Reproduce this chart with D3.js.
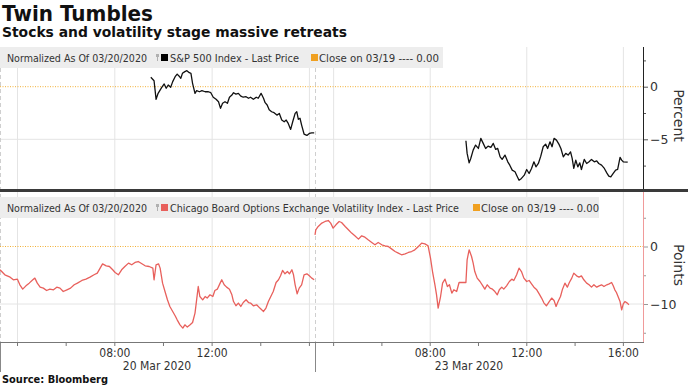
<!DOCTYPE html>
<html>
<head>
<meta charset="utf-8">
<script src="https://cdn.jsdelivr.net/npm/d3@7/dist/d3.min.js"></script>
<style>
  html, body { margin: 0; padding: 0; background: #ffffff; }
  svg { display: block; }
  text { font-family: "DejaVu Sans Condensed", "Liberation Sans Narrow", "Roboto Condensed", "DejaVu Sans", sans-serif; }
</style>
</head>
<body>
<svg id="chart" width="688" height="386"></svg>
<script>
// ---------------- DATA ----------------
const title = "Twin Tumbles";
const subtitle = "Stocks and volatility stage massive retreats";
const source = "Source: Bloomberg";
const days = [{ y: 2020, m: 2, d: 20, label: "20 Mar 2020" }, { y: 2020, m: 2, d: 23, label: "23 Mar 2020" }];

// S&P 500, % change vs close on 03/19 (minutes after midnight)
const spxDay1Minutes = [570, 578, 583, 588, 597, 603, 608, 613, 619, 624,
  630, 635, 640, 644, 648, 654, 659, 665, 669, 673,
  679, 683, 690, 696, 704, 712, 718, 724, 731, 737,
  742, 747, 753, 759, 764, 770, 774, 780, 786, 792,
  798, 805, 811, 816, 823, 830, 835, 842, 848, 852,
  857, 862, 868, 874, 881, 887, 893, 899, 904, 909,
  915, 920, 926, 930, 934, 938, 942, 948, 955, 961,
  967, 973];
const spxDay1Values = [0.9, 0.57, -1.2, -0.63, -0.06, 0.26, -0.15, 0.16, -0.06, 0.48,
  0.95, 1.2, 1.0, 0.8, 1.27, 1.43, 1.52, 1.33, 1.27, 0.32,
  -0.63, -0.38, -0.48, -0.38, -0.48, -0.48, -0.57, -1.0, -1.2, -1.43,
  -2.06, -1.58, -1.43, -1.58, -1.0, -0.79, -0.57, -0.7, -0.63, -0.89,
  -1.0, -0.95, -1.1, -1.0, -1.2, -1.0, -1.1, -0.63, -1.1, -1.52,
  -1.74, -2.2, -2.38, -2.47, -2.7, -2.54, -3.17, -3.33, -3.17, -3.49,
  -4.06, -3.33, -2.54, -2.38, -3.1, -3.0, -3.65, -4.5, -4.63, -4.44,
  -4.38, -4.38];
const spxDay2Minutes = [570, 573, 578, 582, 588, 594, 601, 607, 613, 619,
  625, 632, 638, 644, 649, 655, 660, 667, 674, 679,
  685, 692, 696, 702, 708, 715, 721, 727, 733, 739,
  744, 750, 756, 762, 768, 773, 779, 784, 789, 795,
  801, 806, 812, 818, 824, 830, 834, 838, 843, 848,
  853, 857, 864, 870, 876, 882, 889, 895, 900, 907,
  914, 920, 925, 930, 936, 942, 947, 953, 957, 961,
  972];
const spxDay2Values = [-5.14, -6.34, -7.24, -6.82, -6.03, -5.55, -5.87, -4.91, -5.39, -5.87,
  -5.65, -5.77, -5.39, -5.96, -5.87, -6.67, -6.91, -6.5, -7.14, -7.46,
  -7.93, -8.09, -8.41, -8.89, -8.72, -8.41, -7.87, -8.25, -7.77, -7.14,
  -7.62, -7.3, -6.6, -5.71, -5.46, -5.87, -5.24, -5.71, -4.91, -5.08,
  -5.46, -5.87, -6.67, -6.34, -6.5, -6.19, -6.82, -7.77, -6.98, -7.62,
  -7.24, -7.87, -6.91, -7.3, -7.14, -6.91, -7.14, -7.05, -7.3, -7.46,
  -7.77, -8.19, -8.5, -8.57, -8.25, -7.93, -7.87, -6.72, -6.98, -7.14,
  -7.17];

// VIX, point change vs close on 03/19
const vixDay1Minutes = [198, 210, 223, 231, 241, 247, 254, 262, 270, 279,
  284, 290, 297, 305, 313, 321, 330, 338, 346, 354,
  363, 372, 381, 389, 400, 410, 420, 430, 438, 445,
  451, 460, 468, 476, 482, 490, 498, 506, 515, 523,
  531, 539, 548, 556, 566, 575, 578, 583, 589, 593,
  599, 605, 611, 617, 624, 630, 635, 642, 649, 654,
  660, 667, 673, 679, 683, 687, 691, 698, 704, 709,
  716, 723, 728, 734, 741, 745, 751, 757, 764, 770,
  774, 780, 786, 792, 798, 805, 811, 816, 823, 831,
  839, 848, 854, 860, 866, 872, 879, 885, 890, 895,
  901, 907, 912, 918, 922, 926, 931, 936, 942, 948,
  955, 961, 967, 973];
const vixDay1Values = [-4.05, -4.92, -5.33, -5.79, -5.68, -6.66, -7.42, -6.84, -6.37, -5.79,
  -5.5, -6.37, -7.07, -7.24, -7.65, -7.42, -7.53, -7.07, -7.24, -7.83,
  -7.53, -7.24, -6.66, -6.37, -5.91, -5.68, -5.33, -4.92, -4.63, -3.76,
  -3.01, -3.36, -3.48, -4.05, -4.52, -4.92, -4.05, -3.48, -2.89, -3.18,
  -2.78, -2.61, -3.01, -3.36, -3.48, -3.76, -5.79, -3.18, -3.01, -3.76,
  -6.37, -7.83, -9.27, -10.43, -11.3, -12.05, -12.75, -13.62, -14.19, -13.62,
  -14.02, -13.62, -13.22, -11.58, -9.27, -6.96, -8.7, -9.27, -8.7, -8.97,
  -8.4, -8.7, -7.65, -7.42, -6.37, -5.79, -6.66, -7.07, -7.42, -8.4,
  -9.57, -10.31, -9.84, -10.43, -9.74, -9.27, -9.74, -9.84, -10.31, -10.14,
  -10.71, -11.3, -10.71, -9.57, -8.7, -7.83, -6.26, -5.79, -5.1, -4.17,
  -4.75, -4.35, -4.75, -4.05, -4.92, -6.66, -8.23, -7.24, -6.66, -4.92,
  -4.75, -5.1, -5.5, -5.79];
const vixDay2Minutes = [195, 197, 203, 212, 220, 228, 234, 240, 247, 255,
  261, 270, 278, 286, 294, 303, 311, 319, 327, 336,
  344, 352, 361, 369, 377, 386, 394, 402, 410, 419,
  427, 435, 443, 452, 460, 468, 476, 482, 487, 493,
  497, 501, 507, 512, 518, 524, 529, 535, 540, 547,
  553, 562, 570, 573, 578, 584, 588, 592, 598, 605,
  612, 617, 623, 630, 636, 642, 648, 653, 659, 664,
  671, 678, 684, 689, 696, 702, 708, 714, 721, 727,
  733, 739, 746, 752, 758, 764, 770, 777, 783, 789,
  794, 799, 805, 810, 816, 822, 827, 833, 838, 845,
  851, 857, 863, 870, 876, 882, 888, 895, 901, 907,
  913, 920, 926, 932, 936, 940, 944, 948, 953, 957,
  961, 965, 971, 975];
const vixDay2Values = [2.03, 2.9, 3.48, 4.07, 4.35, 4.52, 4.07, 3.2, 3.77, 4.35,
  4.17, 3.48, 2.9, 2.33, 1.86, 1.28, 1.86, 1.63, 1.17, 0.7,
  0.3, 0.7, 0.3, 0.12, 0, -0.46, -0.87, -1.16, -1.44, -1.27,
  -1.04, -0.87, -0.58, 0, 0.58, 0.46, 0.12, -2.03, -4.35, -6.66,
  -8.4, -10.72, -8.7, -6.37, -5.68, -6.96, -6.66, -8.1, -7.53, -7.83,
  -6.26, -6.26, -6.26, -2.31, -0.58, -1.74, -2.89, -4.35, -5.5, -6.09,
  -6.84, -7.42, -6.66, -7.24, -7.42, -7.83, -8.4, -7.53, -7.07, -7.42,
  -6.84, -6.09, -5.68, -5.91, -4.92, -3.76, -4.35, -5.5, -6.09, -5.91,
  -6.49, -7.07, -7.53, -8.23, -8.97, -9.84, -10.31, -9.57, -8.97, -9.39,
  -10.43, -9.57, -8.7, -7.42, -6.37, -7.07, -6.26, -5.5, -4.63, -5.1,
  -5.33, -5.1, -5.79, -6.37, -6.66, -7.07, -6.66, -7.07, -6.84, -6.66,
  -6.96, -6.66, -6.49, -6.26, -6.84, -7.53, -8.0, -8.7, -9.57, -11.01,
  -9.97, -9.57, -9.84, -10.14];

const timeTickHours = [4, 6, 8, 10, 12, 14, 16];
const labelHoursDay1 = [8, 12];
const labelHoursDay2 = [8, 12, 16];
const gridHours = [4, 8, 12, 16];
const topTicks = [2.5, 0, -2.5, -5, -7.5];
const topLabels = [0, -5];
const bottomTicks = [5, 0, -5, -10, -15];
const bottomLabels = [0, -10];
const topLegend = ["Normalized As Of 03/20/2020", "S&P 500 Index - Last Price", "Close on 03/19 ---- 0.00"];
const bottomLegend = ["Normalized As Of 03/20/2020", "Chicago Board Options Exchange Volatility Index - Last Price", "Close on 03/19 ---- 0.00"];

// ---------------- CHART ----------------
(function () {
const svg = d3.select("#chart");
const dt = (day, minutes) => new Date(day.y, day.m, day.d, 0, minutes);
const D1 = days[0], D2 = days[1];

const x = d3.scaleTime()
  .domain([dt(D1, 198), dt(D1, 975), dt(D2, 195), dt(D2, 1010)])
  .range([0, 315, 315, 643]);

const plotRight = 643;
const topP = { y0: 47, y1: 190 };
const botP = { y0: 192, y1: 342 };
const yTop = d3.scaleLinear().domain([0, -5]).range([86.7, 139.3]);
const yBot = d3.scaleLinear().domain([0, -10]).range([246.5, 304]);

const gridColor = "#e4e4e4";
const textColor = "#333333";

// vertical grid lines
const gridDates = [];
gridHours.forEach(h => { gridDates.push(dt(D1, h * 60)); gridDates.push(dt(D2, h * 60)); });
svg.append("g").selectAll("line").data(gridDates).join("line")
  .attr("x1", d => x(d) + 0.5).attr("x2", d => x(d) + 0.5)
  .attr("y1", topP.y0).attr("y2", botP.y1)
  .attr("stroke", gridColor).attr("stroke-width", 1);

// horizontal grid
svg.append("line").attr("x1", 0).attr("x2", plotRight).attr("y1", yTop(-5)).attr("y2", yTop(-5))
  .attr("stroke", gridColor);
svg.append("line").attr("x1", 0).attr("x2", plotRight).attr("y1", yBot(-10)).attr("y2", yBot(-10))
  .attr("stroke", gridColor);

// dashed session separators
[0.5, x(dt(D2, 195)) + 0.5].forEach(px => {
  svg.append("line").attr("x1", px).attr("x2", px).attr("y1", topP.y0).attr("y2", botP.y1)
    .attr("stroke", "#cfcfcf").attr("stroke-dasharray", "4,3");
  svg.append("line").attr("x1", px).attr("x2", px).attr("y1", botP.y1).attr("y2", 372)
    .attr("stroke", "#888");
});

// zero reference (close on 03/19)
svg.append("line").attr("x1", 0).attr("x2", plotRight).attr("y1", yTop(0)).attr("y2", yTop(0))
  .attr("stroke", "#f2b035").attr("stroke-width", 1).attr("stroke-dasharray", "1,1.5");
svg.append("line").attr("x1", 0).attr("x2", plotRight).attr("y1", yBot(0)).attr("y2", yBot(0))
  .attr("stroke", "#f2b035").attr("stroke-width", 1).attr("stroke-dasharray", "1,1.5");

// series
function series(day, mins, vals) { return mins.map((m, i) => ({ t: dt(day, m), v: vals[i] })); }
const lineTop = d3.line().x(d => x(d.t)).y(d => yTop(d.v));
const lineBot = d3.line().x(d => x(d.t)).y(d => yBot(d.v));

[series(D1, spxDay1Minutes, spxDay1Values), series(D2, spxDay2Minutes, spxDay2Values)].forEach(s => {
  svg.append("path").datum(s).attr("d", lineTop).attr("fill", "none")
    .attr("stroke", "#111").attr("stroke-width", 1.3).attr("stroke-linejoin", "round");
});
[series(D1, vixDay1Minutes, vixDay1Values), series(D2, vixDay2Minutes, vixDay2Values)].forEach(s => {
  svg.append("path").datum(s).attr("d", lineBot).attr("fill", "none")
    .attr("stroke", "#e8605c").attr("stroke-width", 1.3).attr("stroke-linejoin", "round");
});

// legends
function legend(y, texts, color, widths, pos, boxW) {
  const g = svg.append("g");
  g.append("rect").attr("x", 0).attr("y", y).attr("width", boxW).attr("height", 21).attr("fill", "#ededed");
  const by = y + 14.5;
  g.append("text").attr("x", pos[0]).attr("y", by).attr("font-size", 11).attr("fill", textColor)
    .attr("textLength", widths[0]).attr("lengthAdjust", "spacingAndGlyphs").text(texts[0]);
  g.append("rect").attr("x", pos[1] - 6).attr("y", y + 7).attr("width", 3).attr("height", 3).attr("fill", "#b0b0b0");
  g.append("line").attr("x1", pos[1] - 4.5).attr("x2", pos[1] - 4.5).attr("y1", y + 10).attr("y2", y + 14).attr("stroke", "#b0b0b0");
  g.append("rect").attr("x", pos[1] - 1).attr("y", y + 7).attr("width", 7).attr("height", 7).attr("fill", color);
  g.append("text").attr("x", pos[1] + 8).attr("y", by).attr("font-size", 11).attr("fill", textColor)
    .attr("textLength", widths[1]).attr("lengthAdjust", "spacingAndGlyphs").text(texts[1]);
  g.append("rect").attr("x", pos[2] - 8).attr("y", y + 7).attr("width", 7).attr("height", 7).attr("fill", "#f0a020");
  g.append("text").attr("x", pos[2]).attr("y", by).attr("font-size", 11).attr("fill", textColor)
    .attr("textLength", widths[2]).attr("lengthAdjust", "spacingAndGlyphs").text(texts[2]);
}
legend(47, topLegend, "#000", [140, 129, 120], [7, 162, 319], 443);
legend(197, bottomLegend, "#e8605c", [140, 289, 118], [7, 162, 481], 599);

// right axes
const axTop = svg.append("g").attr("transform", `translate(${plotRight},0)`)
  .call(d3.axisRight(yTop).tickValues(topTicks).tickFormat(d => topLabels.includes(d) ? d3.format("d")(d) : "").tickSize(5).tickPadding(2));
axTop.select(".domain").remove();
axTop.append("line").attr("x1", 0.5).attr("x2", 0.5).attr("y1", topP.y0).attr("y2", topP.y1).attr("stroke", "#222");
axTop.selectAll(".tick line").attr("stroke", "#555").attr("x2", d => topLabels.includes(d) ? 5 : 3);
axTop.selectAll(".tick text").attr("font-size", 12.5).attr("fill", textColor)
  .style("font-family", "'DejaVu Sans', sans-serif");

const axBot = svg.append("g").attr("transform", `translate(${plotRight},0)`)
  .call(d3.axisRight(yBot).tickValues(bottomTicks).tickFormat(d => bottomLabels.includes(d) ? d3.format("d")(d) : "").tickSize(5).tickPadding(2));
axBot.select(".domain").remove();
axBot.append("line").attr("x1", 0.5).attr("x2", 0.5).attr("y1", botP.y0).attr("y2", botP.y1).attr("stroke", "#f09a9a");
axBot.selectAll(".tick line").attr("stroke", "#999").attr("x2", d => bottomLabels.includes(d) ? 5 : 3);
axBot.selectAll(".tick text").attr("font-size", 12.5).attr("fill", textColor)
  .style("font-family", "'DejaVu Sans', sans-serif");

// axis titles
svg.append("text").attr("transform", `translate(674,${(topP.y0 + topP.y1) / 2 - 3}) rotate(90)`)
  .attr("text-anchor", "middle").attr("font-size", 14).attr("fill", textColor)
  .style("font-family", "'DejaVu Sans', sans-serif").text("Percent");
svg.append("text").attr("transform", `translate(674,${(botP.y0 + botP.y1) / 2 - 2}) rotate(90)`)
  .attr("text-anchor", "middle").attr("font-size", 14).attr("fill", textColor)
  .style("font-family", "'DejaVu Sans', sans-serif").text("Points");

// divider
svg.append("rect").attr("x", 0).attr("y", 189).attr("width", 688).attr("height", 3).attr("fill", "#3a3a3a");

// x axis
const tickDates = [];
timeTickHours.forEach(h => tickDates.push(dt(D1, h * 60)));
timeTickHours.forEach(h => tickDates.push(dt(D2, h * 60)));
const isLabeled = d => (d.getDate() === D1.d && labelHoursDay1.includes(d.getHours())) ||
                       (d.getDate() === D2.d && labelHoursDay2.includes(d.getHours()));
const axX = svg.append("g").attr("transform", `translate(0,${botP.y1})`)
  .call(d3.axisBottom(x).tickValues(tickDates).tickFormat(d => isLabeled(d) ? d3.timeFormat("%H:%M")(d) : "").tickSize(4).tickPadding(2));
axX.select(".domain").remove();
axX.append("line").attr("x1", 0).attr("x2", plotRight + 1).attr("y1", 0.5).attr("y2", 0.5).attr("stroke", "#777");
axX.selectAll(".tick line").attr("stroke", "#777");
axX.selectAll(".tick text").attr("font-size", 12).attr("fill", textColor);

// day labels
[[D1, 157], [D2, 469]].forEach(([d, cx]) => {
  svg.append("text").attr("x", cx).attr("y", 370).attr("text-anchor", "middle")
    .attr("font-size", 12).attr("fill", textColor).text(d.label);
});

// titles
svg.append("text").attr("x", 2).attr("y", 21).attr("font-size", 21).attr("font-weight", "bold")
  .attr("fill", "#111").style("font-family", "'DejaVu Sans', sans-serif")
  .attr("textLength", 151).attr("lengthAdjust", "spacingAndGlyphs").text(title);
svg.append("text").attr("x", 2).attr("y", 37).attr("font-size", 14).attr("font-weight", "bold")
  .attr("fill", "#111").style("font-family", "'DejaVu Sans', sans-serif")
  .attr("textLength", 345).attr("lengthAdjust", "spacingAndGlyphs").text(subtitle);
svg.append("text").attr("x", 2).attr("y", 383).attr("font-size", 11).attr("font-weight", "bold")
  .attr("fill", "#111").attr("textLength", 106).attr("lengthAdjust", "spacingAndGlyphs").text(source);
})();
</script>
</body>
</html>
